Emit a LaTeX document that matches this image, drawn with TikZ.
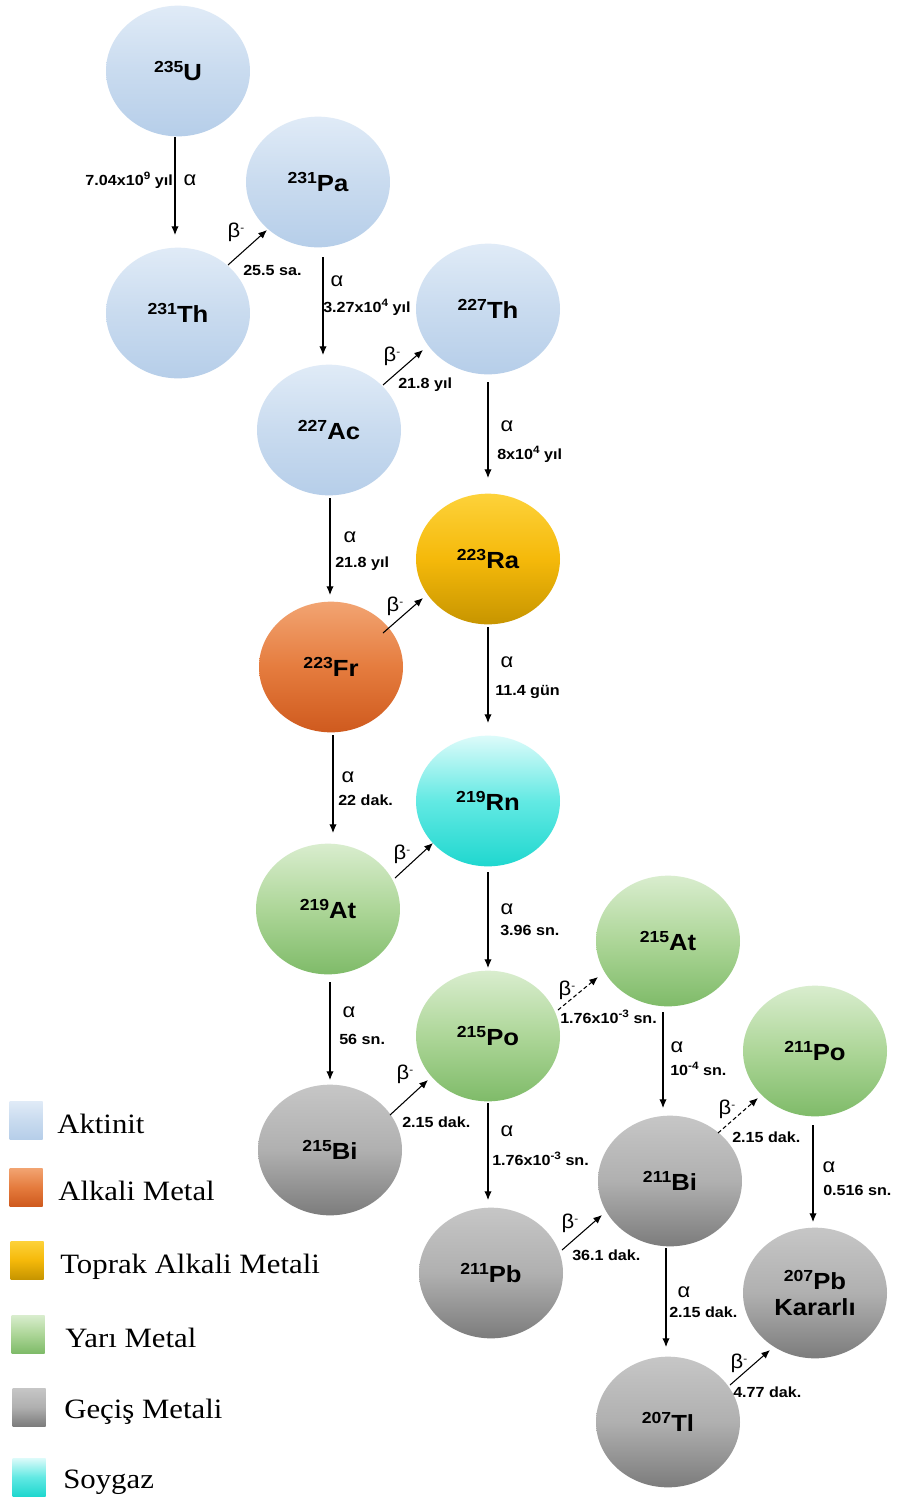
\documentclass[tikz,border=0pt]{standalone}
\usepackage{fontspec}
\setmainfont{Liberation Sans}[FakeStretch=1.1]
\newfontfamily\legfont{Liberation Serif}[FakeStretch=1.1]
\usetikzlibrary{shapes.geometric,arrows.meta}

\definecolor{actT}{HTML}{E0EBF7}\definecolor{actM}{HTML}{C9DBEF}\definecolor{actB}{HTML}{B6CEE9}
\definecolor{alkT}{HTML}{F2A472}\definecolor{alkM}{HTML}{E57C3E}\definecolor{alkB}{HTML}{CF5A1E}
\definecolor{earT}{HTML}{FDD23A}\definecolor{earM}{HTML}{F5B90A}\definecolor{earB}{HTML}{C79500}
\definecolor{nobT}{HTML}{DDFBFA}\definecolor{nobM}{HTML}{62E9E3}\definecolor{nobB}{HTML}{1FD7CF}
\definecolor{semT}{HTML}{D9EDCE}\definecolor{semM}{HTML}{ADD698}\definecolor{semB}{HTML}{7FBB69}
\definecolor{traT}{HTML}{C6C6C6}\definecolor{traM}{HTML}{B0B0B0}\definecolor{traB}{HTML}{7C7C7C}

\newcommand\isot[2]{\raisebox{6pt}{\fontsize{12}{12}\selectfont\bfseries #1}#2}
\newcommand\sups[1]{\raisebox{4pt}{\fontsize{8}{8}\selectfont #1}}

\tikzset{
  nuc/.style={ellipse, minimum width=108pt, minimum height=98pt, inner sep=0pt,
    font=\fontsize{17.5}{21}\selectfont\bfseries, align=center},
  act/.style={nuc, top color=actT, bottom color=actB, middle color=actM},
  alk/.style={nuc, top color=alkT, bottom color=alkB, middle color=alkM},
  alkearth/.style={nuc, top color=earT, bottom color=earB, middle color=earM},
  noble/.style={nuc, top color=nobT, bottom color=nobB, middle color=nobM},
  semi/.style={nuc, top color=semT, bottom color=semB, middle color=semM},
  trans/.style={nuc, top color=traT, bottom color=traB, middle color=traM},
  decay/.style={-{Latex[length=6.5pt,width=5.5pt]}, line width=0.8pt},
  betad/.style={decay, dash pattern=on 3pt off 2pt},
  lbl/.style={font=\fontsize{11}{12}\selectfont\bfseries, inner sep=0pt, anchor=base west},
  sym/.style={font=\fontsize{15}{16}\selectfont, inner sep=0pt},
  legbox/.style={minimum width=24.75pt, minimum height=28.5pt, inner sep=0pt},
  legtxt/.style={font=\legfont\fontsize{21}{24}\selectfont, anchor=base west, inner sep=0pt, text=black},
}

\begin{document}
\begin{tikzpicture}[x=0.75pt,y=-0.75pt]
\useasboundingbox (0,0) rectangle (898,1497);
\fill[white] (0,0) rectangle (898,1497);

% nuclides
\node[act] (U) at (178,71) {\isot{235}{U}};
\node[act] (Pa) at (318,182) {\isot{231}{Pa}};
\node[act] (ThA) at (178,313) {\isot{231}{Th}};
\node[act] (ThB) at (488,309) {\isot{227}{Th}};
\node[act] (Ac) at (329,430) {\isot{227}{Ac}};
\node[alkearth] (Ra) at (488,559) {\isot{223}{Ra}};
\node[alk] (Fr) at (331,667) {\isot{223}{Fr}};
\node[noble] (Rn) at (488,801) {\isot{219}{Rn}};
\node[semi] (AtA) at (328,909) {\isot{219}{At}};
\node[semi] (PoA) at (488,1036) {\isot{215}{Po}};
\node[semi] (AtB) at (668,941) {\isot{215}{At}};
\node[semi] (PoB) at (815,1051) {\isot{211}{Po}};
\node[trans] (BiA) at (330,1150) {\isot{215}{Bi}};
\node[trans] (BiB) at (670,1181) {\isot{211}{Bi}};
\node[trans] (PbA) at (491,1273) {\isot{211}{Pb}};
\node[trans] (PbB) at (815,1293) {\isot{207}{Pb}\\[-2pt]Kararlı};
\node[trans] (Tl) at (668,1422) {\isot{207}{Tl}};

% alpha decays
\draw[decay] ([shift={(-3,66)}]U.center) -- ([shift={(-3,-78)}]ThA.center);
\draw[decay] ([shift={(5,75)}]Pa.center) -- ([shift={(-6,-75)}]Ac.center);
\draw[decay] ([shift={(0,73)}]ThB.center) -- ([shift={(0,-81)}]Ra.center);
\draw[decay] ([shift={(1,68)}]Ac.center) -- ([shift={(-1,-72)}]Fr.center);
\draw[decay] ([shift={(0,68)}]Ra.center) -- ([shift={(0,-78)}]Rn.center);
\draw[decay] ([shift={(2,68)}]Fr.center) -- ([shift={(5,-76)}]AtA.center);
\draw[decay] ([shift={(0,71)}]Rn.center) -- ([shift={(0,-68)}]PoA.center);
\draw[decay] ([shift={(2,73)}]AtA.center) -- ([shift={(0,-70)}]BiA.center);
\draw[decay] ([shift={(0,67)}]PoA.center) -- ([shift={(-3,-73)}]PbA.center);
\draw[decay] ([shift={(-5,71)}]AtB.center) -- ([shift={(-7,-73)}]BiB.center);
\draw[decay] ([shift={(-2,74)}]PoB.center) -- ([shift={(-2,-71)}]PbB.center);
\draw[decay] ([shift={(-4,67)}]BiB.center) -- ([shift={(-2,-75)}]Tl.center);

% beta decays
\draw[decay] ([shift={(50,-48)}]ThA.center) -- ([shift={(-51,48)}]Pa.center);
\draw[decay] ([shift={(54,-45)}]Ac.center) -- ([shift={(-65,41)}]ThB.center);
\draw[decay] ([shift={(52,-34)}]Fr.center) -- ([shift={(-65,39)}]Ra.center);
\draw[decay] ([shift={(67,-31)}]AtA.center) -- ([shift={(-55,42)}]Rn.center);
\draw[decay] ([shift={(60,-35)}]BiA.center) -- ([shift={(-60,44)}]PoA.center);
\draw[betad] ([shift={(70,-26)}]PoA.center) -- ([shift={(-70,36)}]AtB.center);
\draw[betad] ([shift={(48,-48)}]BiB.center) -- ([shift={(-57,47)}]PoB.center);
\draw[decay] ([shift={(71,-23)}]PbA.center) -- ([shift={(-68,34)}]BiB.center);
\draw[decay] ([shift={(62,-37)}]Tl.center) -- ([shift={(-45,57)}]PbB.center);

% labels
\node[lbl, anchor=base east] (t1) at (173,185) {7.04x10\sups{9} yıl};
\node[sym] (s1) at (190,180) {α};
\node[sym] (s2) at (236,232) {β\sups{-}};
\node[lbl] (t2) at (243,275) {25.5 sa.};
\node[sym] (s3) at (337,281) {α};
\node[lbl] (t3) at (323,312) {3.27x10\sups{4} yıl};
\node[sym] (s4) at (392,356) {β\sups{-}};
\node[lbl] (t4) at (398,388) {21.8 yıl};
\node[sym] (s5) at (507,426) {α};
\node[lbl] (t5) at (497,459) {8x10\sups{4} yıl};
\node[sym] (s6) at (350,537) {α};
\node[lbl] (t6) at (335,567) {21.8 yıl};
\node[sym] (s7) at (395,606) {β\sups{-}};
\node[sym] (s8) at (507,662) {α};
\node[lbl] (t8) at (495,695) {11.4 gün};
\node[sym] (s9) at (348,777) {α};
\node[lbl] (t9) at (338,805) {22 dak.};
\node[sym] (s10) at (402,854) {β\sups{-}};
\node[sym] (s11) at (507,909) {α};
\node[lbl] (t11) at (500,935) {3.96 sn.};
\node[sym] (s12) at (349,1012) {α};
\node[lbl] (t12) at (339,1044) {56 sn.};
\node[sym] (s13) at (405,1074) {β\sups{-}};
\node[lbl] (t13) at (402,1127) {2.15 dak.};
\node[sym] (s14) at (507,1131) {α};
\node[lbl] (t14) at (492,1165) {1.76x10\sups{-3} sn.};
\node[sym] (s15) at (567,990) {β\sups{-}};
\node[lbl] (t15) at (560,1023) {1.76x10\sups{-3} sn.};
\node[sym] (s16) at (677,1047) {α};
\node[lbl] (t16) at (670,1075) {10\sups{-4} sn.};
\node[sym] (s17) at (727,1109) {β\sups{-}};
\node[lbl] (t17) at (732,1142) {2.15 dak.};
\node[sym] (s18) at (829,1167) {α};
\node[lbl] (t18) at (823,1195) {0.516 sn.};
\node[sym] (s19) at (570,1223) {β\sups{-}};
\node[lbl] (t19) at (572,1260) {36.1 dak.};
\node[sym] (s20) at (684,1292) {α};
\node[lbl] (t20) at (669,1317) {2.15 dak.};
\node[sym] (s21) at (739,1363) {β\sups{-}};
\node[lbl] (t21) at (733,1397) {4.77 dak.};

% legend
\node[legbox, top color=actT, bottom color=actB, middle color=actM] (k1) at (26,1120) {};
\node[legbox, top color=alkT, bottom color=alkB, middle color=alkM] (k2) at (26,1187) {};
\node[legbox, top color=earT, bottom color=earB, middle color=earM] (k3) at (27,1260) {};
\node[legbox, top color=semT, bottom color=semB, middle color=semM] (k4) at (28,1334) {};
\node[legbox, top color=traT, bottom color=traB, middle color=traM] (k5) at (29,1407) {};
\node[legbox, top color=nobT, bottom color=nobB, middle color=nobM] (k6) at (29,1477) {};
\node[legtxt] (g1) at (57,1133) {Aktinit};
\node[legtxt] (g2) at (58,1200) {Alkali Metal};
\node[legtxt] (g3) at (60,1273) {Toprak Alkali Metali};
\node[legtxt] (g4) at (65,1347) {Yarı Metal};
\node[legtxt] (g5) at (64,1418) {Geçiş Metali};
\node[legtxt] (g6) at (63,1488) {Soygaz};
\end{tikzpicture}
\end{document}
